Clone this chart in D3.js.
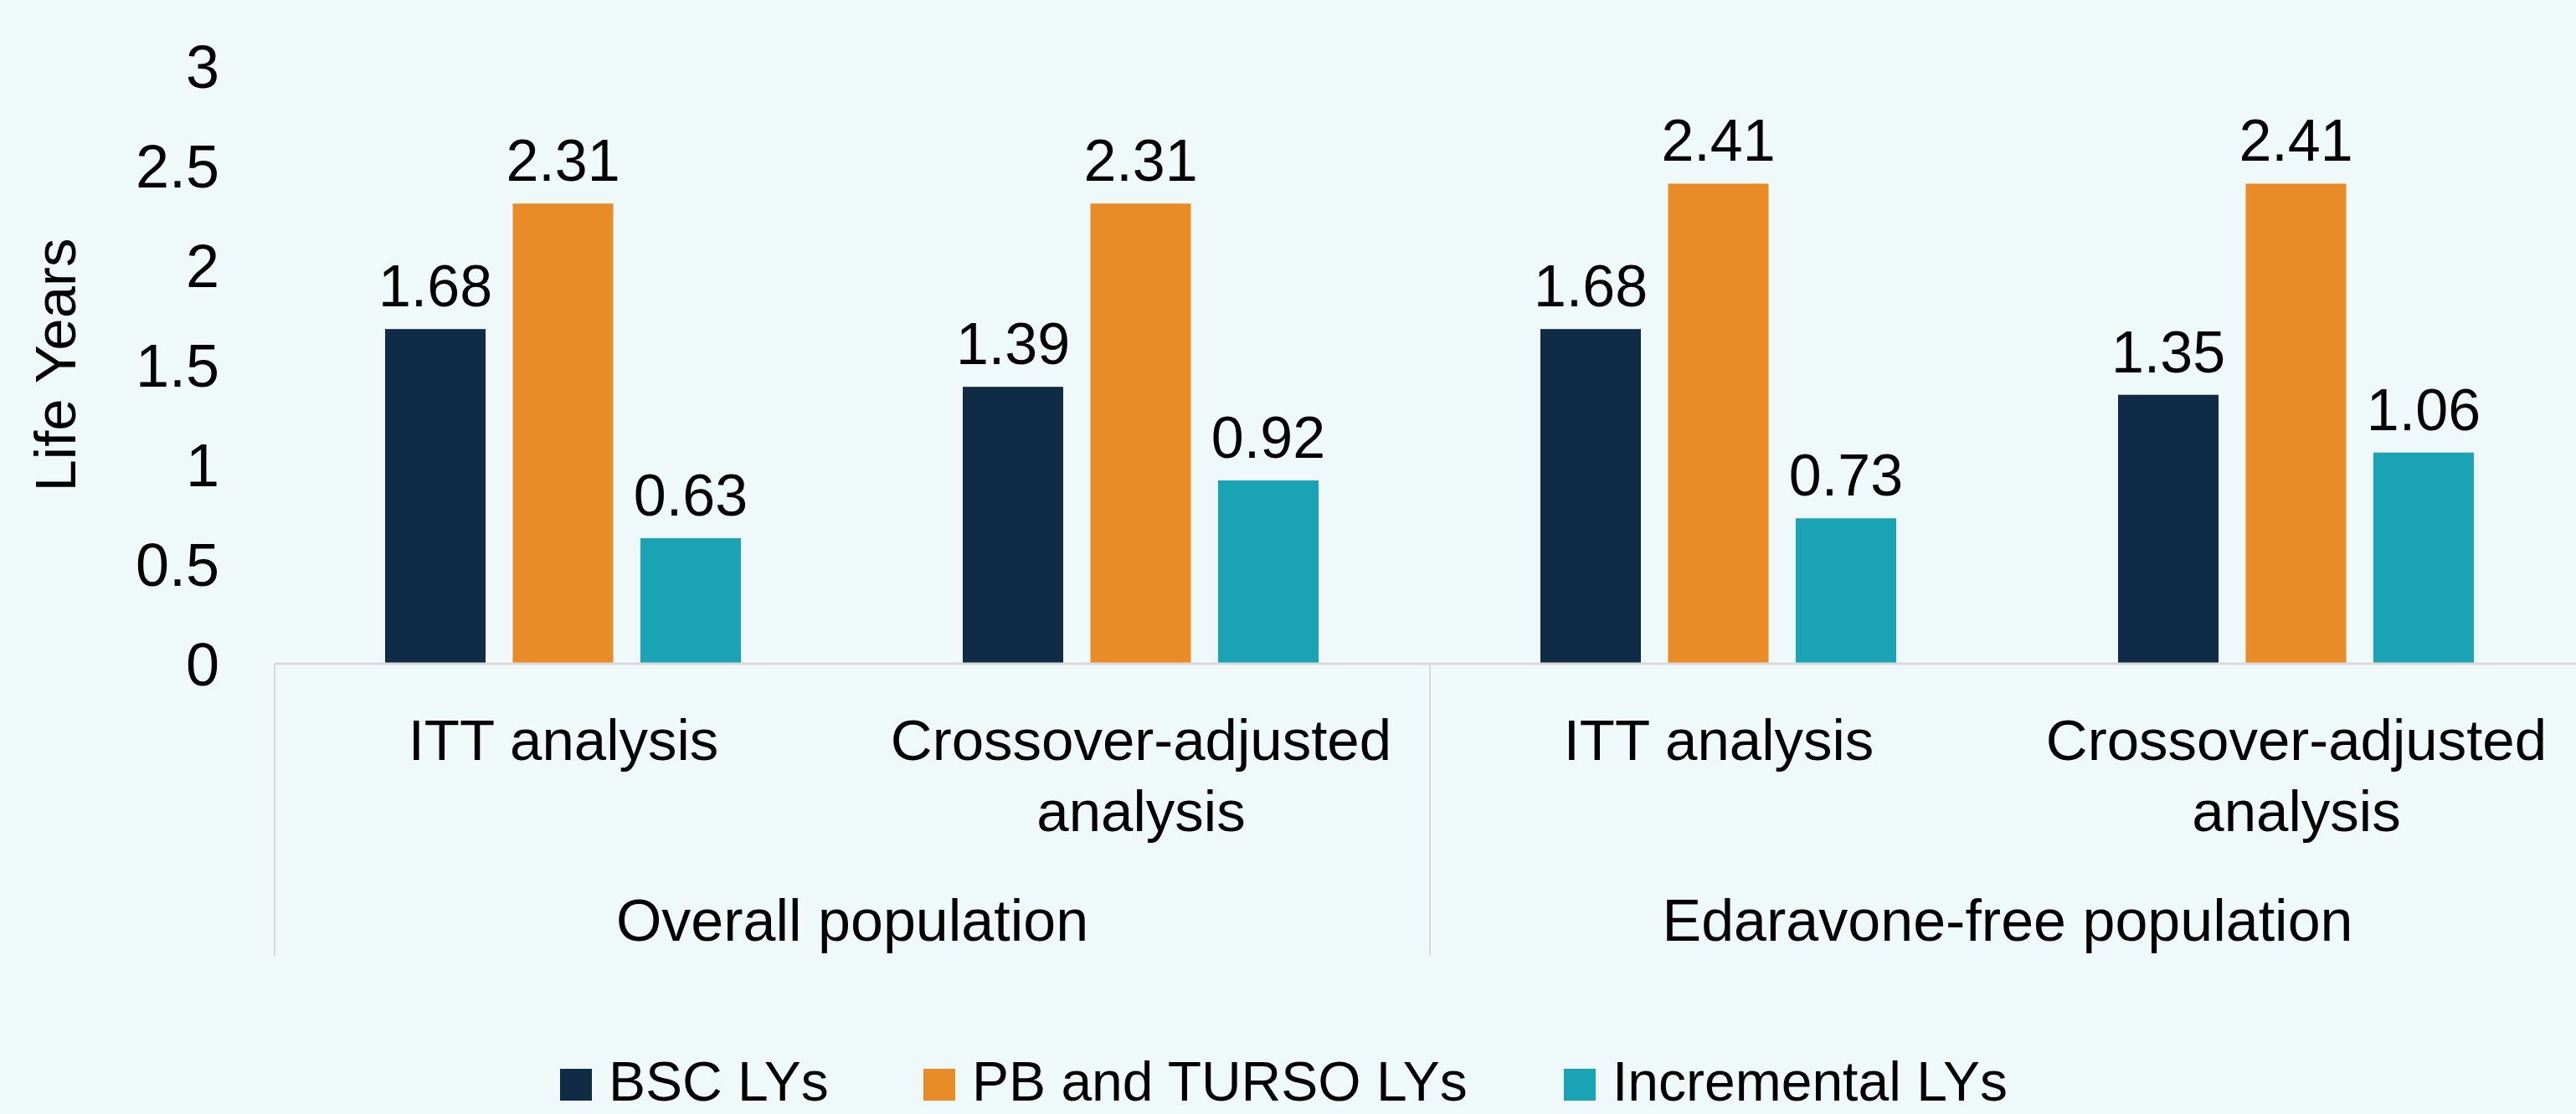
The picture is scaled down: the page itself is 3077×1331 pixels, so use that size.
<!DOCTYPE html>
<html>
<head>
<meta charset="utf-8">
<script src="https://cdn.jsdelivr.net/npm/d3@7"></script>
<style>
  html, body { margin: 0; padding: 0; background: #F0F9FA; }
  svg { display: block; }
  text { font-family: "Liberation Sans", Arial, sans-serif; fill: #000; }
</style>
</head>
<body>
<script>
// ---- data ----
const categories = ["ITT analysis", "Crossover-adjusted analysis", "ITT analysis", "Crossover-adjusted analysis"];
const categoryLines = [["ITT analysis"], ["Crossover-adjusted", "analysis"], ["ITT analysis"], ["Crossover-adjusted", "analysis"]];
const groups = ["Overall population", "Edaravone-free population"];
const seriesNames = ["BSC LYs", "PB and TURSO LYs", "Incremental LYs"];
const bscLYs = [1.68, 1.39, 1.68, 1.35];
const pbTursoLYs = [2.31, 2.31, 2.41, 2.41];
const incrementalLYs = [0.63, 0.92, 0.73, 1.06];
const yTicks = [0, 0.5, 1, 1.5, 2, 2.5, 3];
const yTickLabels = ["0", "0.5", "1", "1.5", "2", "2.5", "3"];
const colors = ["#0F2B46", "#E98B27", "#19A3B5"];

const W = 3077, H = 1331;
const svg = d3.select("body").append("svg").attr("width", W).attr("height", H);
svg.append("rect").attr("width", W).attr("height", H).attr("fill", "#F0F9FA");

const left = 328, right = 3088, y0 = 793, yTop = 79;
const x0 = d3.scaleBand().domain(d3.range(categories.length)).range([left, right]).padding(0);
const x1 = d3.scaleBand().domain(d3.range(seriesNames.length)).range([132, 557]).paddingInner(0.213).paddingOuter(0);
const y = d3.scaleLinear().domain([0, 3]).range([y0, yTop]);

const series = [bscLYs, pbTursoLYs, incrementalLYs];

// y axis
const yAxis = d3.axisLeft(y).tickValues(yTicks).tickSize(0).tickPadding(0)
  .tickFormat((d, i) => yTickLabels[i]);
const ya = svg.append("g").attr("transform", `translate(262,0)`).call(yAxis);
ya.select(".domain").remove();
ya.selectAll("text").style("font-size", "72px").attr("font-family", null).attr("dy", "0.36em");

svg.append("text").attr("transform", `translate(90,436) rotate(-90)`)
  .attr("text-anchor", "middle").style("font-size", "69px").text("Life Years");

// bars
const g = svg.append("g");
categories.forEach((c, ci) => {
  series.forEach((s, si) => {
    const bx = x0(ci) + x1(si);
    g.append("rect").attr("x", bx).attr("width", x1.bandwidth())
      .attr("y", y(s[ci])).attr("height", y(0) - y(s[ci])).attr("fill", colors[si]);
    g.append("text").attr("x", bx + x1.bandwidth() / 2).attr("y", y(s[ci]) - 27)
      .attr("text-anchor", "middle").style("font-size", "70px").text(s[ci].toFixed(2));
  });
});

// axis lines
const lineColor = "#D9D9D9";
svg.append("line").attr("x1", left).attr("x2", right).attr("y1", y0).attr("y2", y0)
  .attr("stroke", lineColor).attr("stroke-width", 3);
[0, 2, 4].forEach(i => {
  const xx = i < 4 ? x0(i) : right;
  svg.append("line").attr("x1", xx).attr("x2", xx).attr("y1", y0).attr("y2", 1142)
    .attr("stroke", lineColor).attr("stroke-width", 2);
});

// category labels
categoryLines.forEach((lines, ci) => {
  const t = svg.append("text").attr("text-anchor", "middle").style("font-size", "69px");
  lines.forEach((ln, li) => {
    t.append("tspan").attr("x", x0(ci) + x0.bandwidth() / 2).attr("y", 908 + li * 85).text(ln);
  });
});

// group labels
groups.forEach((gname, gi) => {
  const cx = (x0(gi * 2) + x0(gi * 2 + 1) + x0.bandwidth()) / 2;
  svg.append("text").attr("x", cx).attr("y", 1124).attr("text-anchor", "middle")
    .style("font-size", "70px").text(gname);
});

// legend
const legendX = [669, 1103, 1868];
seriesNames.forEach((n, i) => {
  svg.append("rect").attr("x", legendX[i]).attr("y", 1277).attr("width", 38).attr("height", 38).attr("fill", colors[i]);
  svg.append("text").attr("x", legendX[i] + 58).attr("y", 1315).style("font-size", "66px").text(n);
});
</script>
</body>
</html>
